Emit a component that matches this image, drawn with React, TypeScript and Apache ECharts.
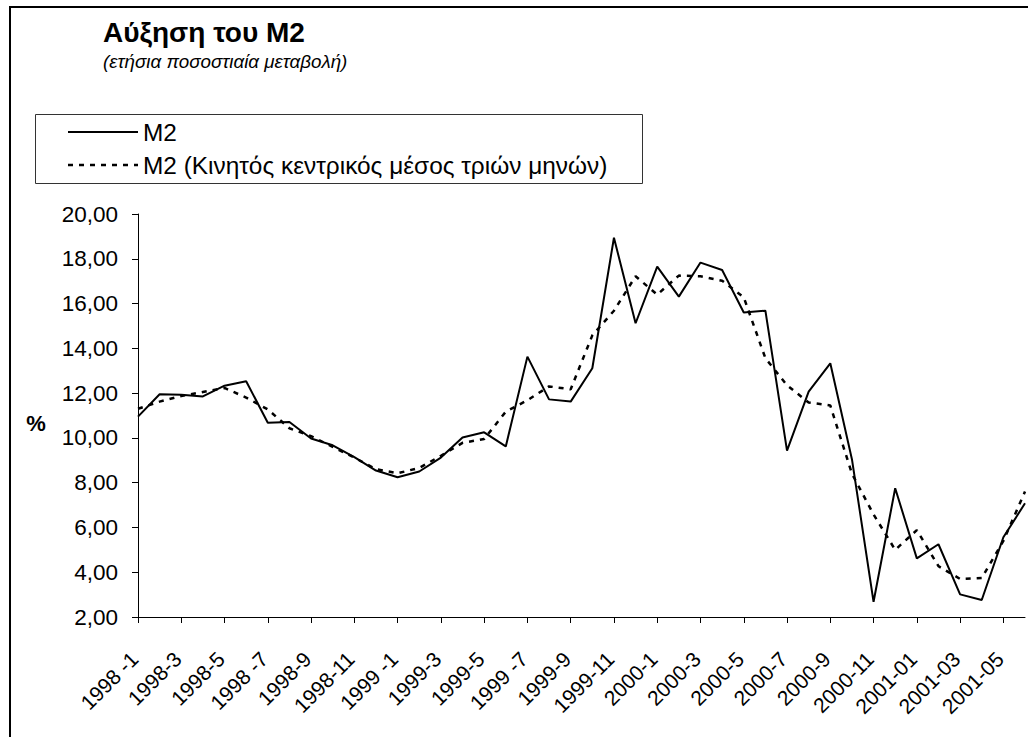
import React, { useEffect, useRef } from "react";
import * as echarts from "echarts";

const categories: string[] = [
  "1998 -1", "1998-2", "1998-3", "1998-4", "1998-5", "1998-6", "1998 -7", "1998-8", "1998-9", "1998-10",
  "1998-11", "1998-12", "1999 -1", "1999-2", "1999-3", "1999-4", "1999-5", "1999-6", "1999 -7", "1999-8",
  "1999-9", "1999-10", "1999-11", "1999-12", "2000-1", "2000-2", "2000-3", "2000-4", "2000-5", "2000-6",
  "2000-7", "2000-8", "2000-9", "2000-10", "2000-11", "2000-12", "2001-01", "2001-02", "2001-03", "2001-04",
  "2001-05", "2001-06",
];

const m2: number[] = [
  10.95, 11.95, 11.93, 11.85, 12.33, 12.53, 10.68, 10.71, 9.97, 9.67,
  9.14, 8.54, 8.24, 8.5, 9.12, 10.02, 10.25, 9.62, 13.63, 11.72,
  11.62, 13.11, 18.94, 15.12, 17.65, 16.31, 17.83, 17.5, 15.6, 15.68,
  9.43, 12.07, 13.33, 9.05, 2.68, 7.75, 4.62, 5.25, 3.01, 2.76,
  5.56, 7.08,
];

const m2Avg: number[] = [
  11.3, 11.62, 11.87, 12.05, 12.23, 11.8, 11.27, 10.43, 10.08, 9.6,
  9.12, 8.6, 8.42, 8.66, 9.2, 9.78, 9.95, 11.17, 11.68, 12.3,
  12.17, 14.58, 15.68, 17.22, 16.4, 17.25, 17.22, 17.02, 16.28, 13.56,
  12.35, 11.58, 11.45, 8.4, 6.58, 5.0, 5.88, 4.27, 3.7, 3.74,
  5.4, 7.6,
];

const seriesNames: string[] = ["M2", "M2 (Κινητός κεντρικός μέσος τριών μηνών)"];
const titleText = "Αύξηση του Μ2";
const subtitleText = "(ετήσια ποσοστιαία μεταβολή)";
const yUnit = "%";

const FONT = "'Liberation Sans', Arial, sans-serif";
const DASH = [5, 6];

export default function App() {
  const ref = useRef<HTMLDivElement>(null);
  useEffect(() => {
    if (!ref.current) return;
    const chart = echarts.init(ref.current, undefined, { renderer: "svg" });
    chart.setOption({
      animation: false,
      backgroundColor: "#fff",
      textStyle: { fontFamily: FONT },
      title: [
        {
          text: titleText,
          left: 103,
          top: 18,
          padding: 0,
          textStyle: { fontFamily: FONT, fontSize: 28, fontWeight: "bold", color: "#000" },
        },
        {
          text: subtitleText,
          left: 103,
          top: 52,
          padding: 0,
          textStyle: { fontFamily: FONT, fontSize: 18.8, fontStyle: "italic", fontWeight: "normal", color: "#000" },
        },
      ],
      graphic: [
        {
          type: "rect",
          shape: { x: 10, y: 7, width: 1200, height: 1000 },
          style: { fill: "none", stroke: "#000", lineWidth: 2 },
          silent: true,
        },
        {
          type: "rect",
          shape: { x: 35.5, y: 114.5, width: 607, height: 69 },
          style: { fill: "none", stroke: "#333", lineWidth: 1 },
          silent: true,
        },
        {
          type: "line",
          shape: { x1: 68, y1: 132, x2: 138, y2: 132 },
          style: { stroke: "#000", lineWidth: 2 },
          silent: true,
        },
        {
          type: "line",
          shape: { x1: 68, y1: 165, x2: 138, y2: 165 },
          style: { stroke: "#000", lineWidth: 2.5, lineDash: DASH },
          silent: true,
        },
        {
          type: "text",
          x: 143,
          y: 132,
          style: {
            text: seriesNames[0],
            fontFamily: FONT,
            fontSize: 24.4,
            fill: "#000",
            align: "left",
            verticalAlign: "middle",
          },
          silent: true,
        },
        {
          type: "text",
          x: 143,
          y: 165,
          style: {
            text: seriesNames[1],
            fontFamily: FONT,
            fontSize: 24.4,
            fill: "#000",
            align: "left",
            verticalAlign: "middle",
          },
          silent: true,
        },
        {
          type: "text",
          x: 36,
          y: 423,
          style: {
            text: yUnit,
            fontFamily: FONT,
            fontSize: 22,
            fontWeight: "bold",
            fill: "#000",
            align: "center",
            verticalAlign: "middle",
          },
          silent: true,
        },
      ],
      grid: { left: 138, right: 3, top: 214, bottom: 120, containLabel: false },
      xAxis: {
        type: "category",
        data: categories,
        boundaryGap: false,
        axisLine: { lineStyle: { color: "#000", width: 1 } },
        axisTick: { interval: 1, length: 6, lineStyle: { color: "#000" } },
        axisLabel: {
          interval: 1,
          rotate: 45,
          margin: 35,
          padding: [0, 5, 0, 0],
          fontFamily: FONT,
          fontSize: 21,
          color: "#000",
        },
        splitLine: { show: false },
      },
      yAxis: {
        type: "value",
        min: 2,
        max: 20,
        interval: 2,
        axisLine: { show: true, lineStyle: { color: "#000", width: 1 } },
        axisTick: { show: true, length: 6, lineStyle: { color: "#000" } },
        axisLabel: {
          margin: 20,
          fontFamily: FONT,
          fontSize: 22.5,
          color: "#000",
          formatter: (v: number) => v.toFixed(2).replace(".", ","),
        },
        splitLine: { show: false },
      },
      series: [
        {
          name: seriesNames[0],
          type: "line",
          data: m2,
          symbol: "none",
          lineStyle: { color: "#000", width: 2, type: "solid" },
          itemStyle: { color: "#000" },
          z: 3,
        },
        {
          name: seriesNames[1],
          type: "line",
          data: m2Avg,
          symbol: "none",
          lineStyle: { color: "#000", width: 2.5, type: DASH },
          itemStyle: { color: "#000" },
          z: 2,
        },
      ],
    });
    return () => chart.dispose();
  }, []);
  return (
    <div
      ref={ref}
      style={{ position: "absolute", left: 0, top: 0, width: 1028, height: 737 }}
    />
  );
}
